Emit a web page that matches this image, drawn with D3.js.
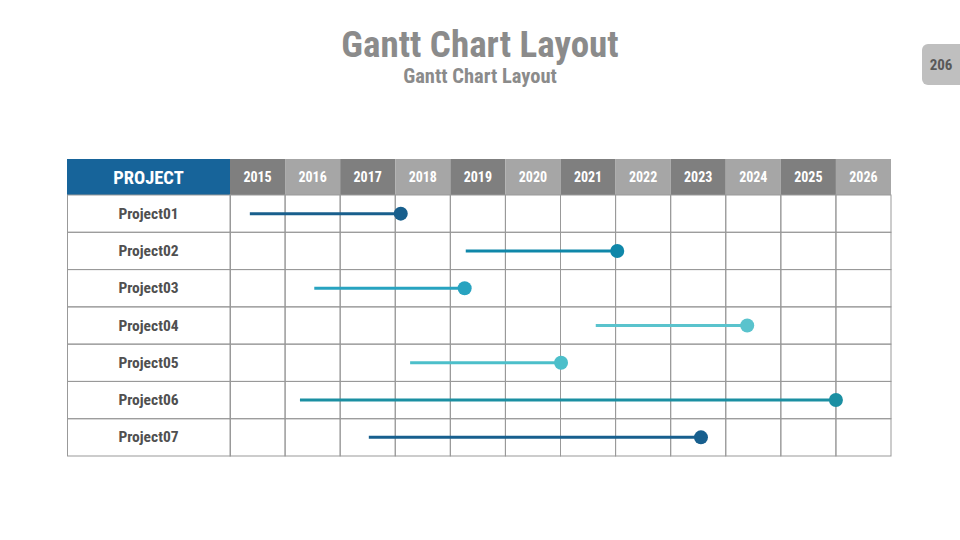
<!DOCTYPE html>
<html><head><meta charset="utf-8">
<script src="https://cdn.jsdelivr.net/npm/d3@7"></script>
<style>body{margin:0;background:#fff;} svg{display:block;}</style>
</head><body>
<svg id="c" width="960" height="540"></svg>
<script>
const years = [2015,2016,2017,2018,2019,2020,2021,2022,2023,2024,2025,2026];
const projects = ["Project01","Project02","Project03","Project04","Project05","Project06","Project07"];
const startYear = [2015.36,2019.28,2016.53,2021.64,2018.27,2016.27,2017.52];
const endYear   = [2018.10,2022.03,2019.26,2024.39,2021.01,2026.00,2023.55];
const colors = ["#185f8d","#0f87a9","#28a3c0","#5ac3cd","#4cbfca","#1b8fa2","#175f8e"];

const svg = d3.select("#c");
const FONT = "'Roboto Condensed','Liberation Sans Narrow','Roboto',sans-serif";
const L = 67, labelW = 163, R = 891, T = 159, headerH = 36, B = 456;

const x = d3.scaleLinear().domain([2015, 2027]).range([L + labelW, R]);
const y = d3.scaleBand().domain(projects).range([T + headerH, B]);

// Title
svg.append("text").attr("x",480).attr("y",57).attr("text-anchor","middle")
  .attr("font-family",FONT).attr("font-weight","bold").attr("font-size",37)
  .attr("fill","#8b8b8b").text("Gantt Chart Layout");
svg.append("text").attr("x",480).attr("y",83).attr("text-anchor","middle")
  .attr("font-family",FONT).attr("font-weight","bold").attr("font-size",20.5)
  .attr("fill","#8b8b8b").text("Gantt Chart Layout");

// page number
svg.append("rect").attr("x",922).attr("y",44).attr("width",50).attr("height",41).attr("rx",6).attr("fill","#bfbfbf");
svg.append("text").attr("x",941).attr("y",70).attr("text-anchor","middle")
  .attr("font-family",FONT).attr("font-weight","bold").attr("font-size",15)
  .attr("fill","#595959").text("206");

// header
svg.append("rect").attr("x",L).attr("y",T).attr("width",labelW).attr("height",headerH).attr("fill","#17649a");
svg.append("text").attr("x",L+labelW/2).attr("y",T+headerH/2+7).attr("text-anchor","middle")
  .attr("font-family",FONT).attr("font-weight","bold").attr("font-size",18.5).attr("fill","#fff").text("PROJECT");
svg.selectAll("rect.yr").data(years).join("rect").attr("class","yr")
  .attr("x",d=>x(d)).attr("y",T).attr("width",d=>x(d+1)-x(d)).attr("height",headerH)
  .attr("fill",(d,i)=> i%2===0 ? "#7f7f7f" : "#a6a6a6");
svg.selectAll("text.yr").data(years).join("text").attr("class","yr")
  .attr("x",d=>(x(d)+x(d+1))/2).attr("y",T+headerH/2+5).attr("text-anchor","middle")
  .attr("font-family",FONT).attr("font-weight","bold").attr("font-size",14).attr("fill","#fff").text(d=>d);

// grid
const g = svg.append("g").attr("stroke","#999").attr("stroke-width",1).attr("fill","none");
projects.forEach(p=>{
  g.append("rect").attr("x",L+0.5).attr("y",y(p)).attr("width",labelW).attr("height",y.bandwidth());
  years.forEach(yr=>{
    g.append("rect").attr("x",x(yr)).attr("y",y(p)).attr("width",x(yr+1)-x(yr)).attr("height",y.bandwidth());
  });
});

// labels
svg.selectAll("text.pl").data(projects).join("text").attr("class","pl")
  .attr("x",L+labelW/2).attr("y",d=>y(d)+y.bandwidth()/2+5).attr("text-anchor","middle")
  .attr("font-family",FONT).attr("font-weight","bold").attr("font-size",15.5).attr("fill","#505050").text(d=>d);

// bars
projects.forEach((p,i)=>{
  const cy = y(p)+y.bandwidth()/2;
  svg.append("line").attr("x1",x(startYear[i])).attr("x2",x(endYear[i])).attr("y1",cy).attr("y2",cy)
    .attr("stroke",colors[i]).attr("stroke-width",3);
  svg.append("circle").attr("cx",x(endYear[i])).attr("cy",cy).attr("r",7).attr("fill",colors[i]);
});
</script>
</body></html>
